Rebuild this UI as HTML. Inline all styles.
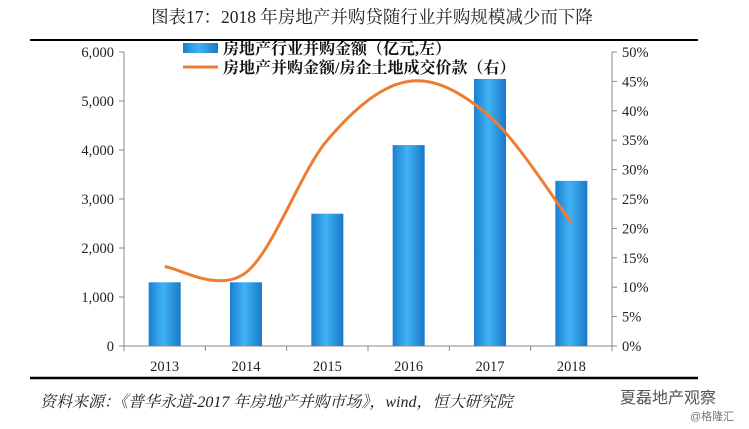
<!DOCTYPE html>
<html><head><meta charset="utf-8"><style>
body{margin:0;background:#fff;}
svg{display:block;font-family:"Liberation Serif","Noto Serif CJK SC",serif;}
</style></head><body>
<svg width="749" height="429" viewBox="0 0 749 429">
<defs><linearGradient id="bg" x1="0" x2="1" y1="0" y2="0">
<stop offset="0" stop-color="#1a7fd0"/><stop offset="0.45" stop-color="#42b2f5"/><stop offset="1" stop-color="#1779c8"/></linearGradient></defs>
<text x="372" y="23" text-anchor="middle" font-size="17.5" fill="#222">图表17：2018 年房地产并购贷随行业并购规模减少而下降</text>
<line x1="30" y1="40" x2="698" y2="40" stroke="#000" stroke-width="2"/>
<g id="axes"></g>
<g id="bars"></g>
<path id="line" fill="none" stroke="#ed7d31" stroke-width="3"/>
<g>
<rect x="183" y="43" width="35" height="10" fill="url(#bg)"/>
<text x="223" y="54" font-size="16" font-weight="bold" fill="#111">房地产行业并购金额（亿元,左）</text>
<line x1="183" y1="67" x2="218" y2="67" stroke="#ed7d31" stroke-width="3"/>
<text x="223" y="73" font-size="16" font-weight="bold" fill="#111">房地产并购金额/房企土地成交价款（右）</text>
</g>
<line x1="30" y1="378" x2="698" y2="378" stroke="#000" stroke-width="2.5"/>
<text x="40" y="407" font-size="16" font-style="italic" fill="#222">资料来源：《普华永道-2017 年房地产并购市场》，wind，恒大研究院</text>
<text x="620" y="403" font-size="16" fill="#555" font-family="Liberation Sans,Noto Sans CJK SC,sans-serif">夏磊地产观察</text>
<text x="690" y="420" font-size="11" fill="#777" font-family="Liberation Sans,Noto Sans CJK SC,sans-serif">@格隆汇</text>
</svg>
<script>
const categories=["2013","2014","2015","2016","2017","2018"];
const amounts=[1300,1300,2700,4100,5450,3370];
const ratios=[13.5,12.5,35,45,39,21];
const leftTicks=[0,1000,2000,3000,4000,5000,6000];
const leftTickLabels=["0","1,000","2,000","3,000","4,000","5,000","6,000"];
const rightTicks=[0,5,10,15,20,25,30,35,40,45,50];

const NS="http://www.w3.org/2000/svg";
const X0=124,X1=612,Y0=346,Y1=52;
const bw=(X1-X0)/categories.length;
const xc=i=>X0+bw*(i+0.5);
const yL=v=>Y0-(v/6000)*(Y0-Y1);
const yR=v=>Y0-(v/50)*(Y0-Y1);
function mk(t,a,p){const e=document.createElementNS(NS,t);for(const k in a)e.setAttribute(k,a[k]);p.appendChild(e);return e;}
const ax=document.getElementById('axes');
let e;
e=mk('line',{x1:X0,y1:Y1,x2:X0,y2:Y0,stroke:'#888'},ax);


e=mk('line',{x1:X1,y1:Y1,x2:X1,y2:Y0,stroke:'#888'},ax);


e=mk('line',{x1:X0,y1:Y0,x2:X1,y2:Y0,stroke:'#888'},ax);


leftTicks.forEach((v,i)=>{
  mk('line',{x1:X0-5,x2:X0,y1:yL(v),y2:yL(v),stroke:'#888'},ax);
  e=mk('text',{x:X0-10,y:yL(v)+5,'text-anchor':'end','font-size':14.5,fill:'#222'},ax);
  e.textContent=leftTickLabels[i];
  
  
});
rightTicks.forEach(v=>{
  mk('line',{x1:X1,x2:X1+5,y1:yR(v),y2:yR(v),stroke:'#888'},ax);
  e=mk('text',{x:X1+10,y:yR(v)+5,'font-size':14.5,fill:'#222'},ax);
  e.textContent=v+'%';
  
  
});
for(let i=0;i<=categories.length;i++)mk('line',{x1:X0+bw*i,x2:X0+bw*i,y1:Y0,y2:Y0+5,stroke:'#888'},ax);
const bars=document.getElementById('bars');
categories.forEach((c,i)=>{
  e=mk('rect',{x:xc(i)-16,y:yL(amounts[i]),width:32,height:Y0-yL(amounts[i]),fill:'url(#bg)'},bars);
  
  
  e=mk('text',{x:xc(i),y:Y0+25,'text-anchor':'middle','font-size':14.5,fill:'#222'},ax);
  e.textContent=c;
  
  
});
const pts=ratios.map((r,i)=>[xc(i),yR(r)]);
let d='M'+pts[0][0]+','+pts[0][1];
for(let i=0;i<pts.length-1;i++){
  const p0=pts[i-1]||pts[i],p1=pts[i],p2=pts[i+1],p3=pts[i+2]||p2;
  const c1=[p1[0]+(p2[0]-p0[0])/6,p1[1]+(p2[1]-p0[1])/6];
  const c2=[p2[0]-(p3[0]-p1[0])/6,p2[1]-(p3[1]-p1[1])/6];
  d+=' C'+c1+' '+c2+' '+p2;
}
document.getElementById('line').setAttribute('d',d);
</script>
</body></html>
